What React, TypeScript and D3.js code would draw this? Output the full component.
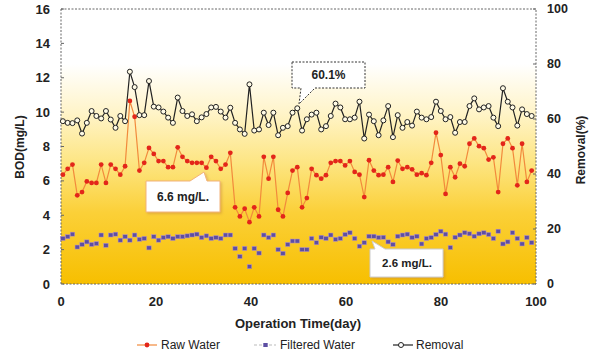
import React from 'react';
import * as d3 from 'd3';

// BOD of raw water (mg/L), one reading per day
const rawWater = [
  6.36, 6.7, 6.95, 5.16, 5.35, 5.97, 5.88, 5.88, 6.95, 5.88,
  6.95, 6.7, 6.36, 6.85, 10.65, 9.73, 6.6, 7.05, 7.92, 7.57,
  7.15, 7.15, 6.8, 6.8, 7.95, 7.4, 7.15, 7.05, 7.05, 7.05,
  6.77, 7.4, 7.15, 6.7,
  6.95, 7.63, 4.46, 3.93, 4.38, 3.6, 4.46, 3.93, 7.4, 6.13,
  7.4, 4.32, 3.93, 5.3, 6.6, 6.8, 4.46, 5.0, 6.7, 6.33,
  6.13, 6.33, 7.05, 7.15, 7.15, 6.9, 7.15, 6.52, 6.36, 5.06,
  7.2, 6.6, 6.33,
  6.36, 6.8, 5.94, 7.18, 6.7, 6.8, 6.67, 6.36, 6.45, 6.33,
  7.05, 8.8, 7.5, 5.24, 6.8, 6.21, 7.0, 6.85, 8.16, 8.47,
  8.02, 7.9, 7.24, 7.37, 5.35, 8.16, 8.47, 7.9, 5.74, 8.16,
  5.94, 6.6,
];

// BOD of filtered water (mg/L)
const filteredWater = [
  2.65, 2.75, 2.9, 2.15, 2.3, 2.45, 2.3, 2.35, 2.85, 2.25,
  2.85, 2.9, 2.55, 2.75, 2.55, 2.85, 2.6, 2.65, 2.1, 2.75,
  2.55, 2.7, 2.75, 2.65, 2.75, 2.75, 2.8, 2.85, 2.9, 2.7,
  2.8, 2.65, 2.7, 2.65,
  2.85, 2.85, 2.07, 1.6, 2.07, 1.01, 2.07, 1.8, 2.85, 2.7,
  2.85, 2.0, 1.78, 2.3, 2.5, 2.5, 2.0, 2.0, 2.65, 2.4,
  2.72, 2.65, 2.85, 2.6, 2.65, 2.88, 2.98, 2.65, 2.2, 2.4,
  2.78, 2.78, 2.7,
  2.72, 2.45, 2.3, 2.78, 2.85, 2.9, 2.7, 2.78, 2.33, 2.65,
  2.7, 2.88, 3.07, 2.9, 2.12, 2.72, 2.85, 2.98, 2.92, 2.78,
  2.92, 2.98, 2.88, 2.65, 3.07, 2.33, 2.45, 2.98, 2.65, 2.33,
  2.7, 2.4,
];

// removal efficiency (%)
const removal = [
  59.2, 58.6, 58.5, 59.5, 54.7, 58.6, 62.9, 61.1, 60.2, 62.9,
  59.8, 56.8, 61.1, 59.2, 77.2, 71.6, 61.4, 61.4, 73.8, 64.5,
  64.2, 62.7, 60.5, 58.6, 67.8, 62.9, 61.1, 61.7, 59.2, 60.6,
  61.8, 64.2, 64.4, 62.7,
  60.5, 64.1, 58.6, 56.2, 54.6, 72.6, 55.8, 56.2, 62.3, 57.8,
  62.3, 54.1, 56.8, 57.4, 62.3, 63.9, 55.8, 59.9, 61.6, 62.3,
  56.2, 57.4, 61.1, 65.6, 64.2, 59.9, 59.9, 60.5, 66.3, 52.9,
  61.6, 59.2, 54.1,
  59.5, 64.7, 53.4, 61.4, 56.8, 58.9, 57.6, 62.7, 60.5, 59.9,
  60.7, 66.3, 62.9, 59.9, 60.7, 55.0, 58.9, 58.9, 64.7, 67.5,
  63.5, 64.2, 64.7, 60.5, 57.4, 71.2, 66.3, 64.2, 57.6, 63.5,
  61.8, 61.1,
];

const days = d3.range(rawWater.length).map(i => 0.4 + i * 1.007);

const bodTicks = [0, 2, 4, 6, 8, 10, 12, 14, 16];
const removalTicks = [0, 20, 40, 60, 80, 100];
const dayTicks = [0, 20, 40, 60, 80, 100];

const W = 591;
const H = 360;
const margin = { top: 9, right: 55, bottom: 76, left: 61 };
const FONT = "'Liberation Sans', Arial, sans-serif";

const App: React.FC = () => {
  const x0 = margin.left;
  const x1 = W - margin.right;
  const y0 = H - margin.bottom;
  const y1 = margin.top;

  const x = d3.scaleLinear().domain([0, 100]).range([x0, x1]);
  const yBod = d3.scaleLinear().domain([0, 16]).range([y0, y1]);
  const yRem = d3.scaleLinear().domain([0, 100]).range([y0, y1]);

  const rawLine = d3.line<number>()
    .x((_, i) => x(days[i]))
    .y(d => yBod(d));
  const remLine = d3.line<number>()
    .x((_, i) => x(days[i]))
    .y(d => yRem(d));

  return (
    <svg width={W} height={H} style={{ position: 'absolute', left: 0, top: 0 }} fontFamily={FONT}>
      <defs>
        <linearGradient id="bg" x1="0" y1="0" x2="0" y2="1">
          <stop offset="0" stopColor="#ffffff" />
          <stop offset="0.2" stopColor="#ffffff" />
          <stop offset="0.38" stopColor="#fff4c8" />
          <stop offset="0.56" stopColor="#fde582" />
          <stop offset="0.74" stopColor="#fbd038" />
          <stop offset="1" stopColor="#f7bf00" />
        </linearGradient>
        <filter id="shadow" x="-10%" y="-10%" width="130%" height="140%">
          <feDropShadow dx="1.5" dy="1.5" stdDeviation="1" floodColor="#c98a3a" floodOpacity="0.5" />
        </filter>
      </defs>
      <rect width={W} height={H} fill="#ffffff" />
      <rect x={x0} y={y1} width={x1 - x0} height={y0 - y1} fill="url(#bg)" />

      {/* frame */}
      <rect x={x0} y={y1} width={x1 - x0} height={y0 - y1} fill="none"
        stroke="#666" strokeWidth={1} strokeDasharray="2,1.5" />

      {/* left axis */}
      {bodTicks.map(t => (
        <g key={'l' + t}>
          <line x1={x0} x2={x0 + 3} y1={yBod(t)} y2={yBod(t)} stroke="#666" />
          <text x={x0 - 11} y={yBod(t)} dy="0.35em" textAnchor="end"
            fontSize={13} fontWeight="bold" fill="#222">{t}</text>
        </g>
      ))}
      {/* right axis */}
      {removalTicks.map(t => (
        <g key={'r' + t}>
          <line x1={x1 - 3} x2={x1} y1={yRem(t)} y2={yRem(t)} stroke="#666" />
          <text x={x1 + 11} y={yRem(t)} dy="0.35em" textAnchor="start"
            fontSize={12.5} fontWeight="bold" fill="#222">{t}</text>
        </g>
      ))}
      {/* bottom axis */}
      {dayTicks.map(t => (
        <text key={'b' + t} x={x(t)} y={y0 + 22} textAnchor="middle"
          fontSize={13} fontWeight="bold" fill="#222">{t}</text>
      ))}

      <text x={298} y={328} textAnchor="middle" fontSize={13} fontWeight="bold" fill="#222">
        Operation Time(day)
      </text>
      <text transform="translate(24,147) rotate(-90)" textAnchor="middle"
        fontSize={12} fontWeight="bold" fill="#222">BOD(mg/L)</text>
      <text transform="translate(585,150) rotate(-90)" textAnchor="middle"
        fontSize={12} fontWeight="bold" fill="#222">Removal(%)</text>

      {/* raw water */}
      <path d={rawLine(rawWater) || ''} fill="none" stroke="#f28a3c" strokeWidth={1.2} />
      {rawWater.map((v, i) => (
        <circle key={'rw' + i} cx={x(days[i])} cy={yBod(v)} r={2.4} fill="#e3261a" />
      ))}

      {/* filtered water */}
      {filteredWater.map((v, i) => (
        <rect key={'fw' + i} x={x(days[i]) - 2.2} y={yBod(v) - 2} width={4.4} height={4}
          fill="#5d4fa3" stroke="#b58fc8" strokeWidth={0.5} />
      ))}

      {/* removal */}
      <path d={remLine(removal) || ''} fill="none" stroke="#222" strokeWidth={1.2} />
      {removal.map((v, i) => (
        <circle key={'rm' + i} cx={x(days[i])} cy={yRem(v)} r={2.5}
          fill="#fffbe6" stroke="#222" strokeWidth={1} />
      ))}

      {/* callouts */}
      <path d="M292,62 H365 V88 H315 L299,104 L301,88 H292 Z" fill="#fff"
        stroke="#333" strokeWidth={1} strokeDasharray="2,1.5" />
      <text x={328.5} y={75} dy="0.35em" textAnchor="middle" fontSize={12}
        fontWeight="bold" fill="#222">60.1%</text>

      <path d="M146,181 H190 L204,172 L207,181 H220 V212 H146 Z" fill="#fff"
        stroke="#f2b37a" strokeWidth={1} filter="url(#shadow)" />
      <text x={183} y={197} dy="0.35em" textAnchor="middle" fontSize={12}
        fontWeight="bold" fill="#222">6.6 mg/L.</text>

      <path d="M370,249 H375 L372,241 L385,249 H443 V277 H370 Z" fill="#fff"
        stroke="#ccc" strokeWidth={1} filter="url(#shadow)" />
      <text x={407} y={263} dy="0.35em" textAnchor="middle" fontSize={11.5}
        fontWeight="bold" fill="#222">2.6 mg/L.</text>

      {/* legend */}
      <g fontSize={12} fill="#222">
        <line x1={137} x2={157} y1={345} y2={345} stroke="#f28a3c" strokeWidth={1.2} />
        <circle cx={147} cy={345} r={2.4} fill="#e3261a" />
        <text x={161} y={345} dy="0.35em">Raw Water</text>

        <line x1={254} x2={276} y1={345} y2={345} stroke="#bbb" strokeWidth={1} strokeDasharray="3,2" />
        <rect x={263.3} y={343} width={4.4} height={4} fill="#5d4fa3" />
        <text x={280} y={345} dy="0.35em">Filtered Water</text>

        <line x1={393} x2={413} y1={345} y2={345} stroke="#222" strokeWidth={1.2} />
        <circle cx={401} cy={345} r={2.5} fill="#fff" stroke="#222" strokeWidth={1} />
        <text x={416} y={345} dy="0.35em">Removal</text>
      </g>
    </svg>
  );
};

export default App;
